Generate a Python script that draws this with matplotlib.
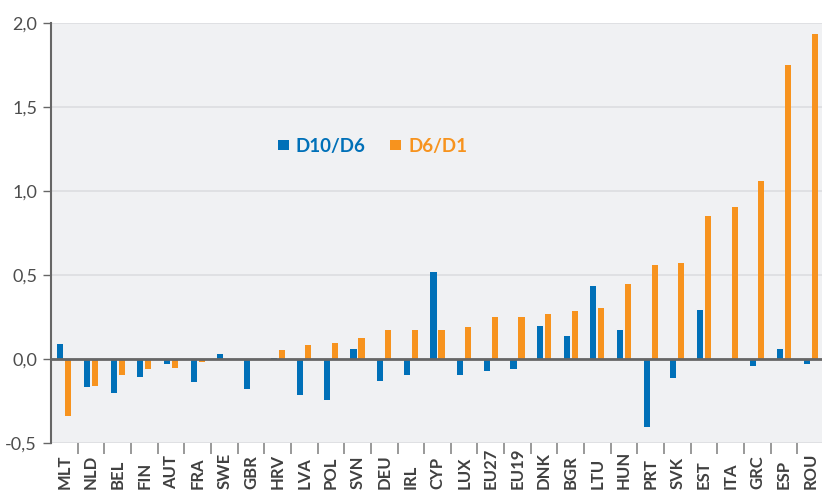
import matplotlib
matplotlib.use("Agg")
import matplotlib.pyplot as plt
import numpy as np
from matplotlib.ticker import FuncFormatter

countries = ["MLT", "NLD", "BEL", "FIN", "AUT", "FRA", "SWE", "GBR", "HRV", "LVA",
             "POL", "SVN", "DEU", "IRL", "CYP", "LUX", "EU27", "EU19", "DNK", "BGR",
             "LTU", "HUN", "PRT", "SVK", "EST", "ITA", "GRC", "ESP", "ROU"]
d10_d6 = [0.09, -0.165, -0.205, -0.105, -0.03, -0.135, 0.028, -0.18, 0.003, -0.215,
          -0.245, 0.06, -0.133, -0.097, 0.52, -0.097, -0.073, -0.061, 0.199, 0.135,
          0.435, 0.171, -0.405, -0.115, 0.292, 0.0, -0.044, 0.058, -0.03]
d6_d1 = [-0.34, -0.16, -0.097, -0.061, -0.054, -0.018, 0.0, 0.0, 0.052, 0.086,
         0.093, 0.125, 0.171, 0.175, 0.175, 0.193, 0.252, 0.252, 0.27, 0.288,
         0.306, 0.445, 0.562, 0.57, 0.854, 0.907, 1.06, 1.752, 1.933]

blue = "#0070b8"
orange = "#f7931e"
plt.rcParams['font.family'] = ["Lato", "DejaVu Sans"]

fig = plt.figure(figsize=(8.22, 4.93), dpi=100)
ax = fig.add_axes([51/822, 1 - 443/493, 773/822, 420/493])
ax.set_facecolor("#f0f1f3")

x = np.arange(len(countries))
b1 = ax.bar(x - 0.15, d10_d6, width=0.23, color=blue, zorder=3)
b2 = ax.bar(x + 0.15, d6_d1, width=0.23, color=orange, zorder=3)

ax.set_xlim(-0.5, len(countries) - 0.5)
ax.set_ylim(-0.5, 2.0)
ax.set_yticks([-0.5, 0.0, 0.5, 1.0, 1.5, 2.0])
ax.yaxis.set_major_formatter(FuncFormatter(lambda v, p: f"{v:.1f}".replace(".", ",")))
ax.grid(axis="y", color="#dcdde0", linewidth=1.2, zorder=0)
ax.axhline(0, color="#666666", linewidth=2, zorder=4)

# labels read bottom-to-top and share a common baseline near the bottom edge
ax.set_xticks(x)
ax.set_xticklabels(countries, rotation=90, fontsize=12, fontweight="bold", color="#404040",
                   va="bottom")
ax.set_xticks(np.arange(0.5, len(countries) - 0.5), minor=True)
ax.tick_params(axis="x", which="major", length=0, pad=33)
ax.tick_params(axis="x", which="minor", length=8, width=1.2, color="#888888")
ax.tick_params(axis="y", length=6, width=1, color="#666666", labelsize=13, labelcolor="#4d4d4d", pad=4)

for s in ["top", "right", "bottom"]:
    ax.spines[s].set_visible(False)
ax.spines["left"].set_color("#666666")
ax.spines["left"].set_linewidth(1.5)

ax.legend([b1, b2], ["D10/D6", "D6/D1"], loc="center left", bbox_to_anchor=(0.272, 0.707),
          ncol=2, frameon=False, handlelength=0.6, handleheight=0.5, handletextpad=0.35,
          columnspacing=1.3, labelcolor=[blue, orange],
          prop={"size": 13.5, "weight": "bold"})

fig.savefig("out.png", dpi=100)
